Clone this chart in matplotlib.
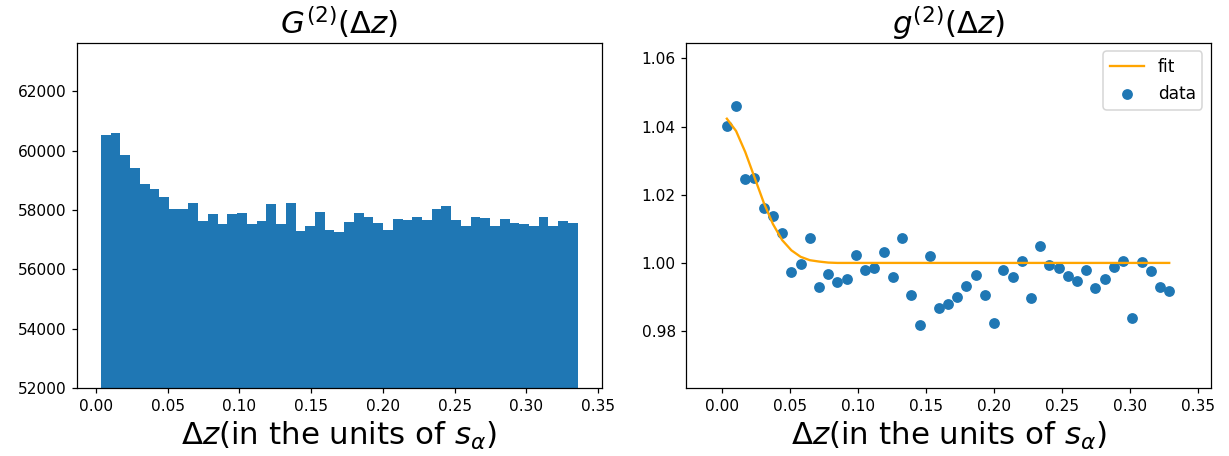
import numpy as np
import matplotlib
matplotlib.use("Agg")
import matplotlib.pyplot as plt

# pair counts per separation bin
G2_counts = [60520, 60590, 59845, 59410, 58870, 58700, 58430, 58030, 58030, 58230,
             57620, 57860, 57520, 57860, 57890, 57520, 57620, 58195, 57520, 58230,
             57290, 57455, 57925, 57320, 57255, 57590, 57890, 57760, 57555, 57320,
             57690, 57655, 57760, 57655, 58030, 58130, 57655, 57455, 57760, 57725,
             57455, 57690, 57555, 57520, 57455, 57760, 57455, 57620, 57555]

# normalised correlation g2 at each bin
g2_data = [1.0401, 1.0461, 1.0246, 1.0249, 1.0160, 1.0137, 1.0087, 0.9974, 0.9998, 1.0072,
           0.9928, 0.9967, 0.9944, 0.9954, 1.0023, 0.9978, 0.9985, 1.0033, 0.9959, 1.0074,
           0.9905, 0.9817, 1.0021, 0.9867, 0.9879, 0.9899, 0.9933, 0.9966, 0.9907, 0.9825,
           0.9980, 0.9960, 1.0007, 0.9897, 1.0051, 0.9995, 0.9986, 0.9961, 0.9948, 0.9978,
           0.9926, 0.9952, 0.9989, 1.0005, 0.9838, 1.0003, 0.9977, 0.9930, 0.9919]

# gaussian fit evaluated on the same bins
g2_fit = [1.0423, 1.0387, 1.0325, 1.0251, 1.0177, 1.0114, 1.0067, 1.0037, 1.0018, 1.0008,
          1.0004, 1.0001] + [1.0] * 37

dz_min, dz_max = 0.0035, 0.3357
edges = np.linspace(dz_min, dz_max, len(G2_counts) + 1)
dz = edges[:-1]

dpi = 111
fig, (ax1, ax2) = plt.subplots(1, 2, figsize=(1229 / dpi, 456 / dpi), dpi=dpi)
fig.subplots_adjust(left=0.0627, right=0.9853, top=0.9057, bottom=0.149, wspace=0.162)

ax1.hist(dz, bins=edges, weights=G2_counts)
ax1.set_ylim(52000, 63630)
ax1.set_title(r"$G^{(2)}(\Delta z)$", fontsize=20)
ax1.set_xlabel(r"$\Delta z$(in the units of $s_\alpha$)", fontsize=20)

ax2.plot(dz, g2_fit, color="orange", label="fit")
ax2.scatter(dz, g2_data, label="data")
ax2.set_xlim(-0.0262, 0.3596)
ax2.set_ylim(0.9633, 1.0645)
ax2.set_title(r"$g^{(2)}(\Delta z)$", fontsize=20)
ax2.set_xlabel(r"$\Delta z$(in the units of $s_\alpha$)", fontsize=20)
ax2.legend(fontsize=11)

plt.savefig("out.png", dpi=dpi)
